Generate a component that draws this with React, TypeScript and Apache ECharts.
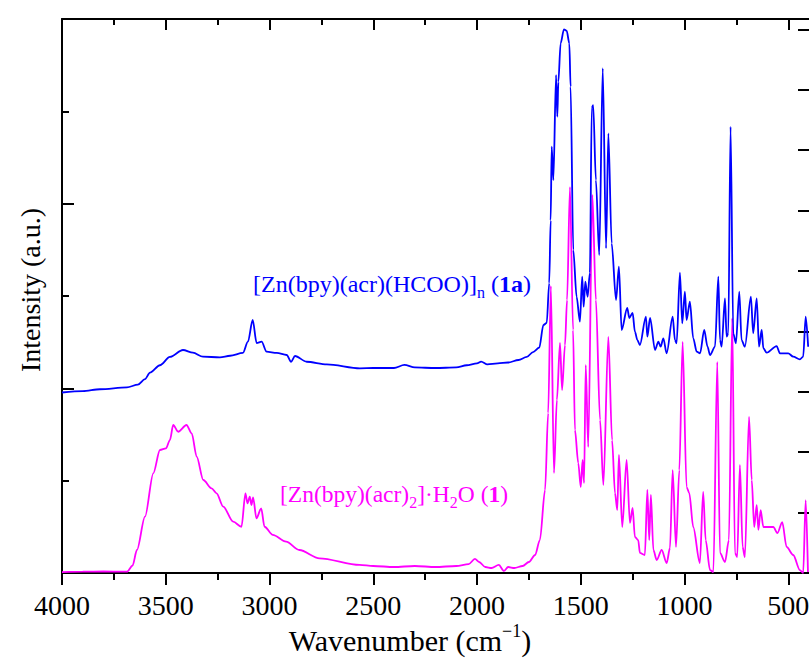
import React, { useEffect, useRef } from 'react';
import * as echarts from 'echarts';

// Spectrum of [Zn(bpy)(acr)(HCOO)]n (1a) — blue, upper trace
const blueWavenumber = [
  4000, 3900, 3817, 3687, 3634, 3600, 3576, 3528, 3480, 3417, 3369, 3321, 3239, 3190, 3128, 3104, 3081, 3062, 3038, 3014,
  2965, 2917, 2896, 2877, 2821, 2724, 2564, 2500, 2400, 2350, 2300, 2200, 2100, 2050, 2000, 1980, 1950, 1900, 1850, 1800,
  1760, 1730, 1700, 1680, 1664, 1652, 1645, 1640, 1632, 1619, 1613, 1608, 1597, 1581, 1568, 1555, 1549, 1536, 1520, 1504,
  1493, 1486, 1478, 1467, 1456, 1447, 1440, 1427, 1411, 1394, 1378, 1367, 1351, 1330, 1316, 1303, 1276, 1266, 1250, 1239,
  1227, 1215, 1186, 1179, 1166, 1142, 1126, 1115, 1102, 1086, 1057, 1046, 1038, 1022, 1011, 998, 990, 974, 958, 941,
  925, 905, 889, 877, 853, 837, 829, 821, 805, 797, 789, 778, 765, 752, 736, 725, 709, 680, 669, 652,
  641, 628, 620, 604, 556, 540, 500, 476, 444, 428, 416, 404,
];
const blueIntensity = [
  195.5, 197, 199, 201, 204, 210, 217, 225, 234, 241.5, 238.6, 234.3, 233.6, 235.3, 238.3, 250.5, 274, 249, 250.5, 239.7,
  238.3, 236.1, 228.8, 235, 228.8, 226, 221.7, 222, 222, 225.3, 222.6, 222, 222.6, 225, 227, 229, 226, 227, 228, 230.7,
  234, 239.3, 244, 268.6, 270.8, 314, 382, 461.7, 425.6, 539.3, 494.2, 532, 573.7, 588.8, 587.3, 573.7, 526.7, 349.8, 299.2, 272.2,
  320.9, 288.4, 315.5, 299.2, 324.9, 503.6, 506.8, 425.6, 344.4, 546.6, 351.6, 476.2, 357, 295.7, 331.7, 263.2, 287, 276.2, 281.6, 261.3,
  252.3, 246.9, 277.6, 255.9, 276.2, 241.5, 250.5, 245.1, 254.2, 237.9, 277.6, 252.3, 248.8, 325.2, 270.4, 304.6, 274, 293.8, 254.2, 239.7,
  237.9, 263.2, 245.1, 236.1, 245.1, 320.9, 252.3, 245.1, 297.5, 255.9, 259.6, 483.3, 259.6, 248.8, 304.6, 252.3, 245.1, 299.2, 259.6, 297.5,
  245.1, 263.2, 243.4, 238.6, 245.8, 237.9, 237.9, 234.3, 231.4, 234.3, 277.6, 245.1,
];

// Spectrum of [Zn(bpy)(acr)2]·H2O (1) — magenta, lower trace
const magentaWavenumber = [
  4000, 3900, 3800, 3700, 3687, 3660, 3639, 3600, 3560, 3528, 3499, 3480, 3464, 3440, 3400, 3375, 3351, 3319, 3279, 3255,
  3223, 3175, 3135, 3116, 3106, 3095, 3087, 3079, 3063, 3040, 3024, 2984, 2920, 2856, 2759, 2566, 2500, 2400, 2300, 2200,
  2100, 2040, 2010, 1990, 1960, 1930, 1895, 1870, 1850, 1820, 1780, 1750, 1720, 1697, 1672, 1657, 1644, 1629, 1615, 1600,
  1590, 1576, 1566, 1552, 1537, 1528, 1512, 1500, 1491, 1484, 1476, 1464, 1444, 1427, 1407, 1391, 1367, 1349, 1335, 1324,
  1316, 1300, 1279, 1263, 1250, 1239, 1223, 1215, 1191, 1179, 1170, 1162, 1150, 1134, 1110, 1086, 1070, 1057, 1041, 1025,
  1009, 990, 977, 958, 926, 910, 898, 877, 861, 842, 829, 805, 786, 770, 757, 746, 733, 720, 709, 689,
  676, 664, 652, 644, 633, 620, 572, 552, 529, 508, 476, 444, 428, 416, 405,
];
const magentaIntensity = [
  1, 1.5, 1.6, 1.4, 1.4, 8, 24.9, 61, 108, 133.2, 135, 144, 160.3, 153, 160.3, 151.3, 126, 100.7, 91.7, 86.3,
  71.8, 55.6, 50.1, 86.3, 75.5, 82.6, 73.6, 82, 59.2, 70, 50.1, 41.2, 33.9, 24.9, 15.9, 8.7, 7.6, 6.5, 7.6, 6.5,
  7.6, 9.7, 15.2, 11.9, 6.5, 5.4, 8.7, 2.2, 6.5, 5.4, 7.6, 11.9, 19.5, 35.7, 89.9, 173.3, 310.8, 108.3, 187.4, 249.1,
  198.2, 246.9, 295.7, 418, 263.2, 154.9, 119.1, 93.1, 122.4, 97.5, 225.3, 136.5, 409.4, 295.7, 165.7, 95.3, 255.6, 144, 86.6, 68.2,
  127.8, 49.8, 122.4, 54.2, 70.4, 39, 35.7, 21.7, 19.5, 89.9, 35.7, 84.5, 24.9, 14.1, 24.9, 10.8, 27.1, 111.5, 28.2, 111.5,
  250.2, 93.1, 86.6, 49.8, 10.8, 87.7, 35.7, 3.2, 1.1, 228.5, 21.7, 11.9, 35.7, 276.2, 21.7, 17.3, 117, 28.2, 17.3, 169,
  100.7, 49.8, 73.6, 46.6, 68.2, 49.8, 49.8, 43.3, 55.2, 28.2, 19.5, 3.2, 0, 79, 1.1,
];

const xMajorTicks = [4000, 3500, 3000, 2500, 2000, 1500, 1000, 500];

export default function App() {
  const ref = useRef<HTMLDivElement>(null);
  useEffect(() => {
    if (!ref.current) return;
    const chart = echarts.init(ref.current, null, { renderer: 'svg' });
    const font = "'Liberation Serif', 'Times New Roman', serif";
    const black = '#000000';
    const blueData = blueWavenumber.map((w, i) => [w, blueIntensity[i]]);
    const magentaData = magentaWavenumber.map((w, i) => [w, magentaIntensity[i]]);
    const lineSt = { color: black, width: 2 };

    const tok = (size: number, color: string, extra: any = {}) => ({
      fontSize: size,
      fontFamily: font,
      fill: color,
      color: color,
      ...extra,
    });

    chart.setOption({
      animation: false,
      backgroundColor: '#ffffff',
      grid: { left: 62, top: 19, width: 747, height: 554, containLabel: false, outerBoundsMode: 'none' },
      xAxis: [
        {
          type: 'value',
          position: 'bottom',
          inverse: true,
          min: 400,
          max: 4000,
          splitNumber: 7,
          axisLine: { show: true, onZero: false, lineStyle: lineSt },
          axisTick: { show: true, inside: false, length: 12, lineStyle: lineSt, customValues: xMajorTicks },
          minorTick: { show: true, splitNumber: 2, length: 7, lineStyle: lineSt },
          axisLabel: {
            show: true,
            margin: 18,
            fontSize: 28,
            color: black,
            fontFamily: font,
            customValues: xMajorTicks,
            formatter: (v: number) => (v % 500 === 0 ? String(v) : ''),
          },
          splitLine: { show: false },
          minorSplitLine: { show: false },
        },
        {
          type: 'value',
          position: 'top',
          inverse: true,
          min: 400,
          max: 4000,
          splitNumber: 7,
          axisLine: { show: true, onZero: false, lineStyle: lineSt },
          axisTick: { show: true, inside: true, length: 11, lineStyle: lineSt, customValues: xMajorTicks },
          minorTick: { show: true, splitNumber: 2, length: 6, lineStyle: lineSt },
          axisLabel: { show: false },
          splitLine: { show: false },
          minorSplitLine: { show: false },
        },
      ],
      yAxis: [
        {
          type: 'value',
          position: 'left',
          min: 0,
          max: 600,
          interval: 200,
          axisLine: { show: true, onZero: false, lineStyle: lineSt },
          axisTick: { show: true, inside: true, length: 12, lineStyle: lineSt },
          minorTick: { show: true, splitNumber: 2, length: 7, lineStyle: lineSt },
          axisLabel: { show: false },
          splitLine: { show: false },
          minorSplitLine: { show: false },
        },
        {
          type: 'value',
          position: 'right',
          min: 0,
          max: 9.17,
          interval: 1,
          axisLine: { show: false, onZero: false, lineStyle: lineSt },
          axisTick: { show: true, inside: true, length: 11, lineStyle: lineSt },
          axisLabel: { show: false },
          splitLine: { show: false },
        },
      ],
      series: [
        {
          name: '1a',
          type: 'line',
          xAxisIndex: 0,
          yAxisIndex: 0,
          data: blueData,
          showSymbol: false,
          symbol: 'none',
          smooth: 0.3,
          smoothMonotone: 'x',
          lineStyle: { color: '#0000ff', width: 1.8 },
          itemStyle: { color: '#0000ff' },
          z: 3,
        },
        {
          name: '1',
          type: 'line',
          xAxisIndex: 0,
          yAxisIndex: 0,
          data: magentaData,
          showSymbol: false,
          symbol: 'none',
          smooth: 0.3,
          smoothMonotone: 'x',
          lineStyle: { color: '#ff00ff', width: 1.8 },
          itemStyle: { color: '#ff00ff' },
          z: 2,
        },
      ],
      graphic: [
        {
          type: 'text',
          x: 253,
          y: 284,
          z: 10,
          style: {
            text: '{n|[Zn(bpy)(acr)(HCOO)]}{s|n}{n| (}{b|1a}{n|)}',
            align: 'left',
            textAlign: 'left',
            verticalAlign: 'middle',
            textVerticalAlign: 'middle',
            fill: '#0000ff',
            rich: {
              n: tok(24, '#0000ff', { lineHeight: 32 }),
              b: tok(24, '#0000ff', { lineHeight: 32, fontWeight: 'bold' }),
              s: tok(16, '#0000ff', { lineHeight: 16, padding: [16, 0, 0, 0] }),
            },
          },
        },
        {
          type: 'text',
          x: 280,
          y: 494,
          z: 10,
          style: {
            text: '{n|[Zn(bpy)(acr)}{s|2}{n|]·H}{s|2}{n|O (}{b|1}{n|)}',
            align: 'left',
            textAlign: 'left',
            verticalAlign: 'middle',
            textVerticalAlign: 'middle',
            fill: '#ff00ff',
            rich: {
              n: tok(23.5, '#ff00ff', { lineHeight: 32 }),
              b: tok(23.5, '#ff00ff', { lineHeight: 32, fontWeight: 'bold' }),
              s: tok(16, '#ff00ff', { lineHeight: 16, padding: [16, 0, 0, 0] }),
            },
          },
        },
        {
          type: 'text',
          x: 410,
          y: 640,
          z: 10,
          style: {
            text: '{n|Wavenumber (cm}{p|−1}{n|)}',
            align: 'center',
            textAlign: 'center',
            verticalAlign: 'middle',
            textVerticalAlign: 'middle',
            fill: black,
            rich: {
              n: tok(30, black, { lineHeight: 36 }),
              p: tok(18, black, { lineHeight: 18, padding: [0, 0, 18, 0] }),
            },
          },
        },
        {
          type: 'text',
          x: 30,
          y: 290,
          rotation: Math.PI / 2,
          z: 10,
          style: {
            text: 'Intensity (a.u.)',
            align: 'center',
            textAlign: 'center',
            verticalAlign: 'middle',
            textVerticalAlign: 'middle',
            fill: black,
            fontSize: 28,
            fontFamily: font,
            font: `28px ${font}`,
          },
        },
      ],
    });
    return () => chart.dispose();
  }, []);
  return <div ref={ref} style={{ position: 'fixed', left: 0, top: 0, width: 809, height: 662 }} />;
}
